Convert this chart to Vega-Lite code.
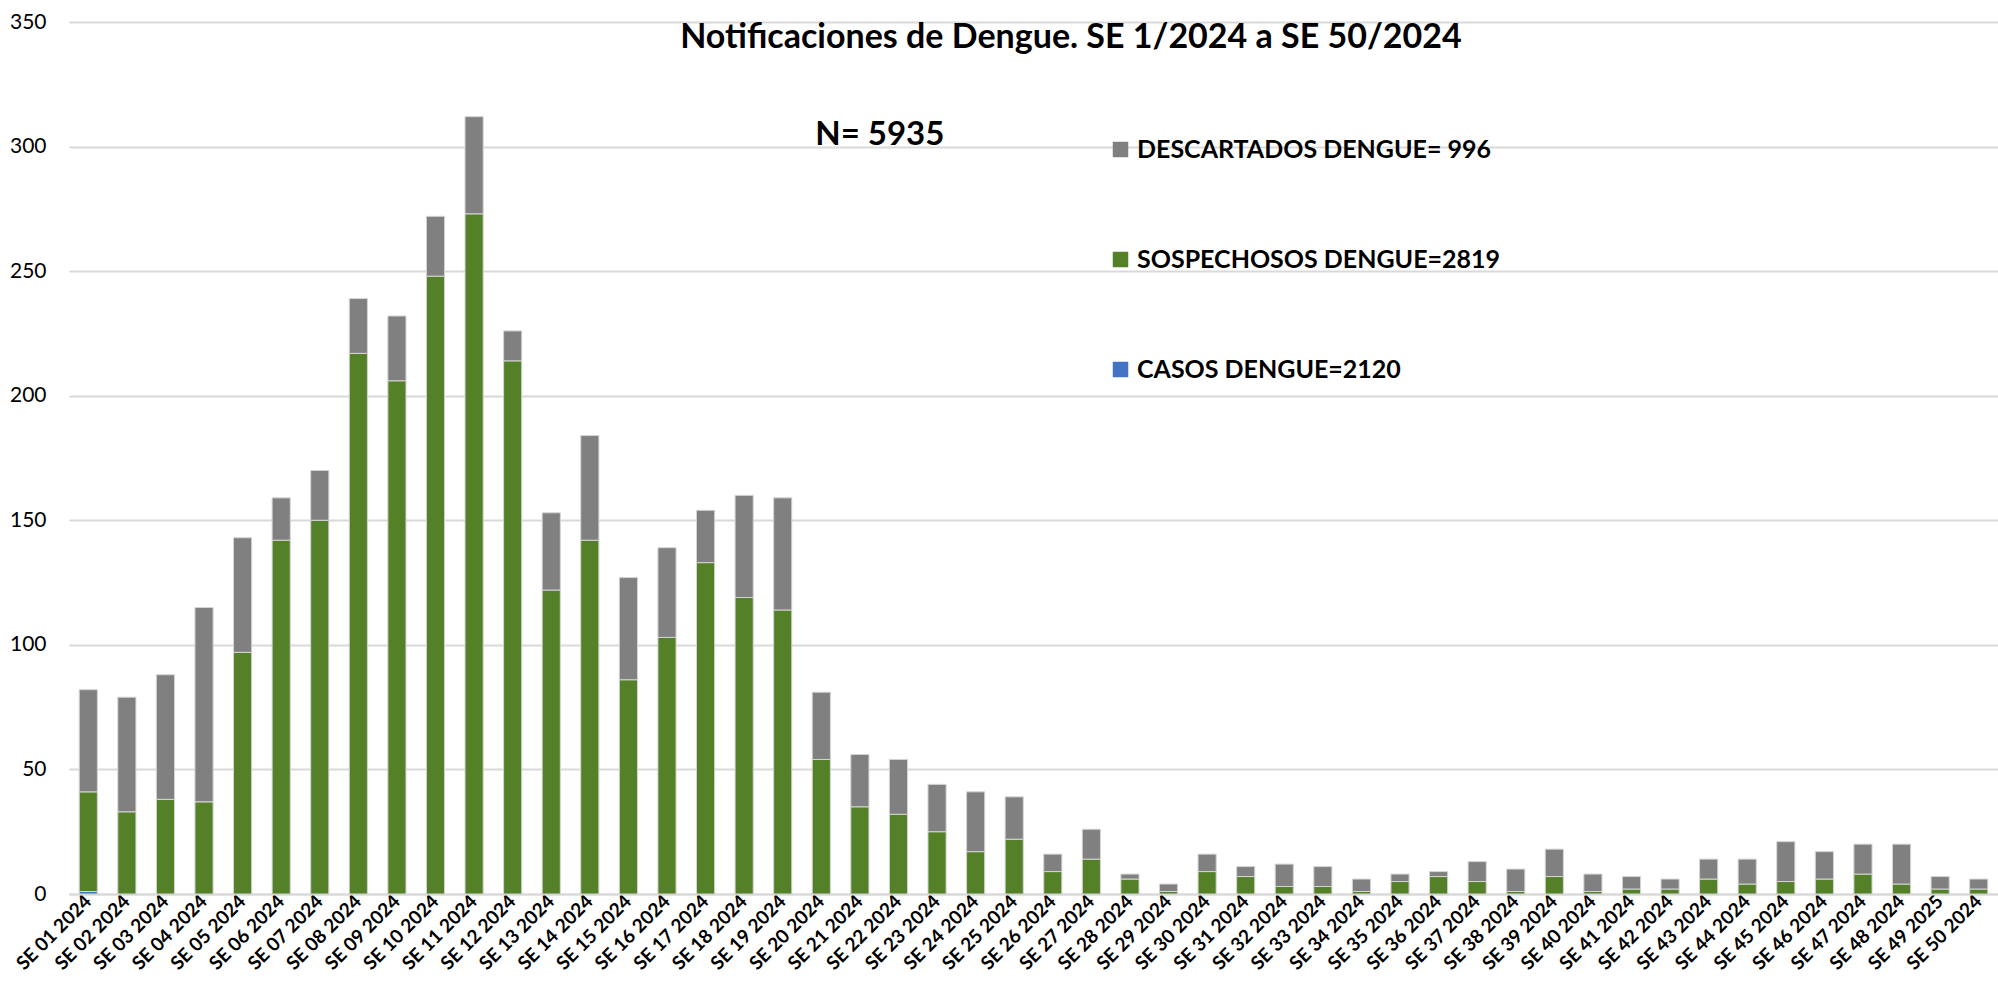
{
  "$schema": "https://vega.github.io/schema/vega-lite/v6.json",
  "autosize": {"type": "fit", "contains": "padding"},
  "width": 1998,
  "height": 990,
  "padding": {"left": 9, "right": 0, "top": 11, "bottom": 16},
  "background": "white",
  "config": {
    "view": {"stroke": null},
    "font": "Lato",
    "axis": {"labelFont": "Lato", "labelColor": "#000000"},
    "legend": {"labelFont": "Lato"}
  },
  "data": {"values": [
    {"semana":"SE 01 2024","tipo":"CASOS DENGUE=2120","orden":1,"n":1},{"semana":"SE 01 2024","tipo":"SOSPECHOSOS DENGUE=2819","orden":2,"n":40},{"semana":"SE 01 2024","tipo":"DESCARTADOS DENGUE= 996","orden":3,"n":41},
    {"semana":"SE 02 2024","tipo":"CASOS DENGUE=2120","orden":1,"n":0},{"semana":"SE 02 2024","tipo":"SOSPECHOSOS DENGUE=2819","orden":2,"n":33},{"semana":"SE 02 2024","tipo":"DESCARTADOS DENGUE= 996","orden":3,"n":46},
    {"semana":"SE 03 2024","tipo":"CASOS DENGUE=2120","orden":1,"n":0},{"semana":"SE 03 2024","tipo":"SOSPECHOSOS DENGUE=2819","orden":2,"n":38},{"semana":"SE 03 2024","tipo":"DESCARTADOS DENGUE= 996","orden":3,"n":50},
    {"semana":"SE 04 2024","tipo":"CASOS DENGUE=2120","orden":1,"n":0},{"semana":"SE 04 2024","tipo":"SOSPECHOSOS DENGUE=2819","orden":2,"n":37},{"semana":"SE 04 2024","tipo":"DESCARTADOS DENGUE= 996","orden":3,"n":78},
    {"semana":"SE 05 2024","tipo":"CASOS DENGUE=2120","orden":1,"n":0},{"semana":"SE 05 2024","tipo":"SOSPECHOSOS DENGUE=2819","orden":2,"n":97},{"semana":"SE 05 2024","tipo":"DESCARTADOS DENGUE= 996","orden":3,"n":46},
    {"semana":"SE 06 2024","tipo":"CASOS DENGUE=2120","orden":1,"n":0},{"semana":"SE 06 2024","tipo":"SOSPECHOSOS DENGUE=2819","orden":2,"n":142},{"semana":"SE 06 2024","tipo":"DESCARTADOS DENGUE= 996","orden":3,"n":17},
    {"semana":"SE 07 2024","tipo":"CASOS DENGUE=2120","orden":1,"n":0},{"semana":"SE 07 2024","tipo":"SOSPECHOSOS DENGUE=2819","orden":2,"n":150},{"semana":"SE 07 2024","tipo":"DESCARTADOS DENGUE= 996","orden":3,"n":20},
    {"semana":"SE 08 2024","tipo":"CASOS DENGUE=2120","orden":1,"n":0},{"semana":"SE 08 2024","tipo":"SOSPECHOSOS DENGUE=2819","orden":2,"n":217},{"semana":"SE 08 2024","tipo":"DESCARTADOS DENGUE= 996","orden":3,"n":22},
    {"semana":"SE 09 2024","tipo":"CASOS DENGUE=2120","orden":1,"n":0},{"semana":"SE 09 2024","tipo":"SOSPECHOSOS DENGUE=2819","orden":2,"n":206},{"semana":"SE 09 2024","tipo":"DESCARTADOS DENGUE= 996","orden":3,"n":26},
    {"semana":"SE 10 2024","tipo":"CASOS DENGUE=2120","orden":1,"n":0},{"semana":"SE 10 2024","tipo":"SOSPECHOSOS DENGUE=2819","orden":2,"n":248},{"semana":"SE 10 2024","tipo":"DESCARTADOS DENGUE= 996","orden":3,"n":24},
    {"semana":"SE 11 2024","tipo":"CASOS DENGUE=2120","orden":1,"n":0},{"semana":"SE 11 2024","tipo":"SOSPECHOSOS DENGUE=2819","orden":2,"n":273},{"semana":"SE 11 2024","tipo":"DESCARTADOS DENGUE= 996","orden":3,"n":39},
    {"semana":"SE 12 2024","tipo":"CASOS DENGUE=2120","orden":1,"n":0},{"semana":"SE 12 2024","tipo":"SOSPECHOSOS DENGUE=2819","orden":2,"n":214},{"semana":"SE 12 2024","tipo":"DESCARTADOS DENGUE= 996","orden":3,"n":12},
    {"semana":"SE 13 2024","tipo":"CASOS DENGUE=2120","orden":1,"n":0},{"semana":"SE 13 2024","tipo":"SOSPECHOSOS DENGUE=2819","orden":2,"n":122},{"semana":"SE 13 2024","tipo":"DESCARTADOS DENGUE= 996","orden":3,"n":31},
    {"semana":"SE 14 2024","tipo":"CASOS DENGUE=2120","orden":1,"n":0},{"semana":"SE 14 2024","tipo":"SOSPECHOSOS DENGUE=2819","orden":2,"n":142},{"semana":"SE 14 2024","tipo":"DESCARTADOS DENGUE= 996","orden":3,"n":42},
    {"semana":"SE 15 2024","tipo":"CASOS DENGUE=2120","orden":1,"n":0},{"semana":"SE 15 2024","tipo":"SOSPECHOSOS DENGUE=2819","orden":2,"n":86},{"semana":"SE 15 2024","tipo":"DESCARTADOS DENGUE= 996","orden":3,"n":41},
    {"semana":"SE 16 2024","tipo":"CASOS DENGUE=2120","orden":1,"n":0},{"semana":"SE 16 2024","tipo":"SOSPECHOSOS DENGUE=2819","orden":2,"n":103},{"semana":"SE 16 2024","tipo":"DESCARTADOS DENGUE= 996","orden":3,"n":36},
    {"semana":"SE 17 2024","tipo":"CASOS DENGUE=2120","orden":1,"n":0},{"semana":"SE 17 2024","tipo":"SOSPECHOSOS DENGUE=2819","orden":2,"n":133},{"semana":"SE 17 2024","tipo":"DESCARTADOS DENGUE= 996","orden":3,"n":21},
    {"semana":"SE 18 2024","tipo":"CASOS DENGUE=2120","orden":1,"n":0},{"semana":"SE 18 2024","tipo":"SOSPECHOSOS DENGUE=2819","orden":2,"n":119},{"semana":"SE 18 2024","tipo":"DESCARTADOS DENGUE= 996","orden":3,"n":41},
    {"semana":"SE 19 2024","tipo":"CASOS DENGUE=2120","orden":1,"n":0},{"semana":"SE 19 2024","tipo":"SOSPECHOSOS DENGUE=2819","orden":2,"n":114},{"semana":"SE 19 2024","tipo":"DESCARTADOS DENGUE= 996","orden":3,"n":45},
    {"semana":"SE 20 2024","tipo":"CASOS DENGUE=2120","orden":1,"n":0},{"semana":"SE 20 2024","tipo":"SOSPECHOSOS DENGUE=2819","orden":2,"n":54},{"semana":"SE 20 2024","tipo":"DESCARTADOS DENGUE= 996","orden":3,"n":27},
    {"semana":"SE 21 2024","tipo":"CASOS DENGUE=2120","orden":1,"n":0},{"semana":"SE 21 2024","tipo":"SOSPECHOSOS DENGUE=2819","orden":2,"n":35},{"semana":"SE 21 2024","tipo":"DESCARTADOS DENGUE= 996","orden":3,"n":21},
    {"semana":"SE 22 2024","tipo":"CASOS DENGUE=2120","orden":1,"n":0},{"semana":"SE 22 2024","tipo":"SOSPECHOSOS DENGUE=2819","orden":2,"n":32},{"semana":"SE 22 2024","tipo":"DESCARTADOS DENGUE= 996","orden":3,"n":22},
    {"semana":"SE 23 2024","tipo":"CASOS DENGUE=2120","orden":1,"n":0},{"semana":"SE 23 2024","tipo":"SOSPECHOSOS DENGUE=2819","orden":2,"n":25},{"semana":"SE 23 2024","tipo":"DESCARTADOS DENGUE= 996","orden":3,"n":19},
    {"semana":"SE 24 2024","tipo":"CASOS DENGUE=2120","orden":1,"n":0},{"semana":"SE 24 2024","tipo":"SOSPECHOSOS DENGUE=2819","orden":2,"n":17},{"semana":"SE 24 2024","tipo":"DESCARTADOS DENGUE= 996","orden":3,"n":24},
    {"semana":"SE 25 2024","tipo":"CASOS DENGUE=2120","orden":1,"n":0},{"semana":"SE 25 2024","tipo":"SOSPECHOSOS DENGUE=2819","orden":2,"n":22},{"semana":"SE 25 2024","tipo":"DESCARTADOS DENGUE= 996","orden":3,"n":17},
    {"semana":"SE 26 2024","tipo":"CASOS DENGUE=2120","orden":1,"n":0},{"semana":"SE 26 2024","tipo":"SOSPECHOSOS DENGUE=2819","orden":2,"n":9},{"semana":"SE 26 2024","tipo":"DESCARTADOS DENGUE= 996","orden":3,"n":7},
    {"semana":"SE 27 2024","tipo":"CASOS DENGUE=2120","orden":1,"n":0},{"semana":"SE 27 2024","tipo":"SOSPECHOSOS DENGUE=2819","orden":2,"n":14},{"semana":"SE 27 2024","tipo":"DESCARTADOS DENGUE= 996","orden":3,"n":12},
    {"semana":"SE 28 2024","tipo":"CASOS DENGUE=2120","orden":1,"n":0},{"semana":"SE 28 2024","tipo":"SOSPECHOSOS DENGUE=2819","orden":2,"n":6},{"semana":"SE 28 2024","tipo":"DESCARTADOS DENGUE= 996","orden":3,"n":2},
    {"semana":"SE 29 2024","tipo":"CASOS DENGUE=2120","orden":1,"n":0},{"semana":"SE 29 2024","tipo":"SOSPECHOSOS DENGUE=2819","orden":2,"n":1},{"semana":"SE 29 2024","tipo":"DESCARTADOS DENGUE= 996","orden":3,"n":3},
    {"semana":"SE 30 2024","tipo":"CASOS DENGUE=2120","orden":1,"n":0},{"semana":"SE 30 2024","tipo":"SOSPECHOSOS DENGUE=2819","orden":2,"n":9},{"semana":"SE 30 2024","tipo":"DESCARTADOS DENGUE= 996","orden":3,"n":7},
    {"semana":"SE 31 2024","tipo":"CASOS DENGUE=2120","orden":1,"n":0},{"semana":"SE 31 2024","tipo":"SOSPECHOSOS DENGUE=2819","orden":2,"n":7},{"semana":"SE 31 2024","tipo":"DESCARTADOS DENGUE= 996","orden":3,"n":4},
    {"semana":"SE 32 2024","tipo":"CASOS DENGUE=2120","orden":1,"n":0},{"semana":"SE 32 2024","tipo":"SOSPECHOSOS DENGUE=2819","orden":2,"n":3},{"semana":"SE 32 2024","tipo":"DESCARTADOS DENGUE= 996","orden":3,"n":9},
    {"semana":"SE 33 2024","tipo":"CASOS DENGUE=2120","orden":1,"n":0},{"semana":"SE 33 2024","tipo":"SOSPECHOSOS DENGUE=2819","orden":2,"n":3},{"semana":"SE 33 2024","tipo":"DESCARTADOS DENGUE= 996","orden":3,"n":8},
    {"semana":"SE 34 2024","tipo":"CASOS DENGUE=2120","orden":1,"n":0},{"semana":"SE 34 2024","tipo":"SOSPECHOSOS DENGUE=2819","orden":2,"n":1},{"semana":"SE 34 2024","tipo":"DESCARTADOS DENGUE= 996","orden":3,"n":5},
    {"semana":"SE 35 2024","tipo":"CASOS DENGUE=2120","orden":1,"n":0},{"semana":"SE 35 2024","tipo":"SOSPECHOSOS DENGUE=2819","orden":2,"n":5},{"semana":"SE 35 2024","tipo":"DESCARTADOS DENGUE= 996","orden":3,"n":3},
    {"semana":"SE 36 2024","tipo":"CASOS DENGUE=2120","orden":1,"n":0},{"semana":"SE 36 2024","tipo":"SOSPECHOSOS DENGUE=2819","orden":2,"n":7},{"semana":"SE 36 2024","tipo":"DESCARTADOS DENGUE= 996","orden":3,"n":2},
    {"semana":"SE 37 2024","tipo":"CASOS DENGUE=2120","orden":1,"n":0},{"semana":"SE 37 2024","tipo":"SOSPECHOSOS DENGUE=2819","orden":2,"n":5},{"semana":"SE 37 2024","tipo":"DESCARTADOS DENGUE= 996","orden":3,"n":8},
    {"semana":"SE 38 2024","tipo":"CASOS DENGUE=2120","orden":1,"n":0},{"semana":"SE 38 2024","tipo":"SOSPECHOSOS DENGUE=2819","orden":2,"n":1},{"semana":"SE 38 2024","tipo":"DESCARTADOS DENGUE= 996","orden":3,"n":9},
    {"semana":"SE 39 2024","tipo":"CASOS DENGUE=2120","orden":1,"n":0},{"semana":"SE 39 2024","tipo":"SOSPECHOSOS DENGUE=2819","orden":2,"n":7},{"semana":"SE 39 2024","tipo":"DESCARTADOS DENGUE= 996","orden":3,"n":11},
    {"semana":"SE 40 2024","tipo":"CASOS DENGUE=2120","orden":1,"n":0},{"semana":"SE 40 2024","tipo":"SOSPECHOSOS DENGUE=2819","orden":2,"n":1},{"semana":"SE 40 2024","tipo":"DESCARTADOS DENGUE= 996","orden":3,"n":7},
    {"semana":"SE 41 2024","tipo":"CASOS DENGUE=2120","orden":1,"n":0},{"semana":"SE 41 2024","tipo":"SOSPECHOSOS DENGUE=2819","orden":2,"n":2},{"semana":"SE 41 2024","tipo":"DESCARTADOS DENGUE= 996","orden":3,"n":5},
    {"semana":"SE 42 2024","tipo":"CASOS DENGUE=2120","orden":1,"n":0},{"semana":"SE 42 2024","tipo":"SOSPECHOSOS DENGUE=2819","orden":2,"n":2},{"semana":"SE 42 2024","tipo":"DESCARTADOS DENGUE= 996","orden":3,"n":4},
    {"semana":"SE 43 2024","tipo":"CASOS DENGUE=2120","orden":1,"n":0},{"semana":"SE 43 2024","tipo":"SOSPECHOSOS DENGUE=2819","orden":2,"n":6},{"semana":"SE 43 2024","tipo":"DESCARTADOS DENGUE= 996","orden":3,"n":8},
    {"semana":"SE 44 2024","tipo":"CASOS DENGUE=2120","orden":1,"n":0},{"semana":"SE 44 2024","tipo":"SOSPECHOSOS DENGUE=2819","orden":2,"n":4},{"semana":"SE 44 2024","tipo":"DESCARTADOS DENGUE= 996","orden":3,"n":10},
    {"semana":"SE 45 2024","tipo":"CASOS DENGUE=2120","orden":1,"n":0},{"semana":"SE 45 2024","tipo":"SOSPECHOSOS DENGUE=2819","orden":2,"n":5},{"semana":"SE 45 2024","tipo":"DESCARTADOS DENGUE= 996","orden":3,"n":16},
    {"semana":"SE 46 2024","tipo":"CASOS DENGUE=2120","orden":1,"n":0},{"semana":"SE 46 2024","tipo":"SOSPECHOSOS DENGUE=2819","orden":2,"n":6},{"semana":"SE 46 2024","tipo":"DESCARTADOS DENGUE= 996","orden":3,"n":11},
    {"semana":"SE 47 2024","tipo":"CASOS DENGUE=2120","orden":1,"n":0},{"semana":"SE 47 2024","tipo":"SOSPECHOSOS DENGUE=2819","orden":2,"n":8},{"semana":"SE 47 2024","tipo":"DESCARTADOS DENGUE= 996","orden":3,"n":12},
    {"semana":"SE 48 2024","tipo":"CASOS DENGUE=2120","orden":1,"n":0},{"semana":"SE 48 2024","tipo":"SOSPECHOSOS DENGUE=2819","orden":2,"n":4},{"semana":"SE 48 2024","tipo":"DESCARTADOS DENGUE= 996","orden":3,"n":16},
    {"semana":"SE 49 2025","tipo":"CASOS DENGUE=2120","orden":1,"n":0},{"semana":"SE 49 2025","tipo":"SOSPECHOSOS DENGUE=2819","orden":2,"n":2},{"semana":"SE 49 2025","tipo":"DESCARTADOS DENGUE= 996","orden":3,"n":5},
    {"semana":"SE 50 2024","tipo":"CASOS DENGUE=2120","orden":1,"n":0},{"semana":"SE 50 2024","tipo":"SOSPECHOSOS DENGUE=2819","orden":2,"n":2},{"semana":"SE 50 2024","tipo":"DESCARTADOS DENGUE= 996","orden":3,"n":4}
  ]},
  "encoding": {
    "x": {
      "field": "semana", "type": "nominal", "sort": null,
      "scale": {"paddingInner": 0.53, "paddingOuter": 0.265},
      "axis": {
        "title": null, "labelAngle": -45, "labelAlign": "right", "labelBaseline": "middle",
        "labelFontSize": 19, "labelFontWeight": "bold", "labelPadding": 4,
        "ticks": false, "domainColor": "#d9d9d9", "domainWidth": 2, "grid": false
      }
    }
  },
  "layer": [
    {
      "mark": {"type": "bar", "stroke": "#d4d4d4", "strokeWidth": 1},
      "encoding": {
        "y": {
          "field": "n", "type": "quantitative", "stack": "zero",
          "scale": {"domain": [0, 350]},
          "axis": {
            "title": null, "values": [0, 50, 100, 150, 200, 250, 300, 350],
            "labelFontSize": 21, "labelPadding": 23, "ticks": false, "domain": false,
            "gridColor": "#d9d9d9", "gridWidth": 2
          }
        },
        "order": {"field": "orden", "type": "quantitative", "sort": "ascending"},
        "color": {
          "field": "tipo", "type": "nominal",
          "scale": {
            "domain": ["DESCARTADOS DENGUE= 996", "SOSPECHOSOS DENGUE=2819", "CASOS DENGUE=2120"],
            "range": ["#808080", "#548127", "#4472c4"]
          },
          "legend": {
            "title": null, "orient": "none", "legendX": 1039, "legendY": 115,
            "symbolType": "square", "symbolSize": 240, "symbolStrokeWidth": 0,
            "labelFontSize": 25, "labelFontWeight": "bold", "labelColor": "#000000",
            "rowPadding": 84, "labelOffset": 4, "labelLimit": 600
          }
        }
      }
    },
    {
      "data": {"values": [{"texto": "Notificaciones de Dengue. SE 1/2024 a SE 50/2024"}]},
      "mark": {"type": "text", "fontSize": 34, "fontWeight": "bold", "color": "#000000", "align": "center", "baseline": "middle"},
      "encoding": {
        "x": {"datum": "SE 26 2024", "bandPosition": 1.5},
        "y": {"datum": 343.5},
        "text": {"field": "texto"}
      }
    },
    {
      "data": {"values": [{"texto": "N= 5935"}]},
      "mark": {"type": "text", "fontSize": 33, "fontWeight": "bold", "color": "#000000", "align": "center", "baseline": "middle"},
      "encoding": {
        "x": {"datum": "SE 21 2024", "bandPosition": 1.6},
        "y": {"datum": 304.5},
        "text": {"field": "texto"}
      }
    }
  ]
}
